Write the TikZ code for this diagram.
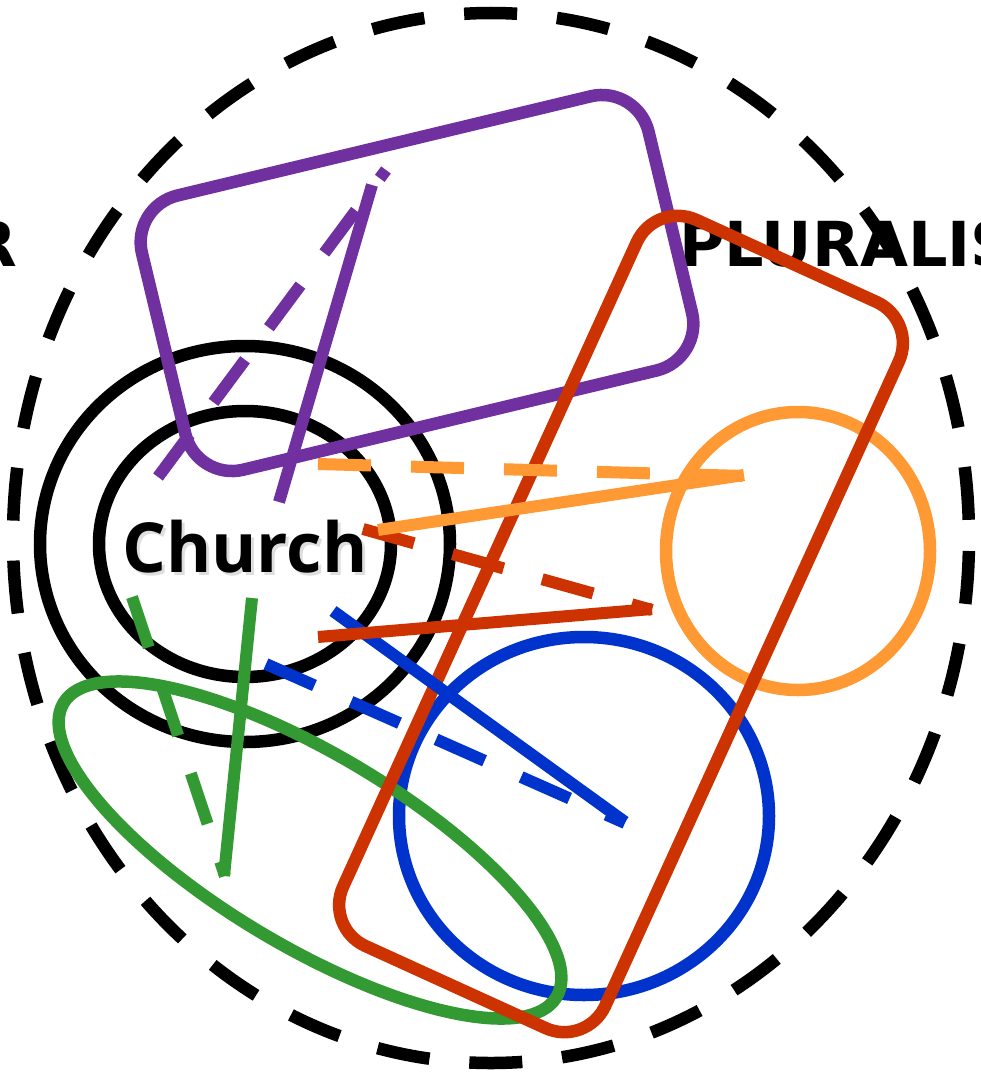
\documentclass[tikz,border=0pt]{standalone}
\usepackage{fontspec}
\newfontfamily\churchfont{Open Sans}
\newfontfamily\lblfont{DejaVu Sans}
\definecolor{cpurple}{HTML}{7030A0}
\definecolor{cred}{HTML}{CC3300}
\definecolor{corange}{HTML}{FF9933}
\definecolor{cblue}{HTML}{0033CC}
\definecolor{cgreen}{HTML}{339933}
\begin{document}
\begin{tikzpicture}[x=1pt,y=-1pt,
  shapeline/.style={line width=12.5pt},
  conn/.style={line width=12pt},
  dconn/.style={line width=12pt, dash pattern=on 53pt off 40pt},
  lbl/.style={inner sep=0pt, font=\lblfont\bfseries\fontsize{62}{62}\selectfont},
  churchtxt/.style={inner sep=0pt, font=\churchfont\bfseries\fontsize{69}{69}\selectfont}]
\useasboundingbox (0,0) rectangle (981,1073);
\clip (0,0) rectangle (981,1073);

% outer labels
\node[lbl, anchor=base west] (pluralism) at (679,266) {PLURALIS};
\node[lbl, anchor=base east] (secular) at (17,266) {R};

% outer dashed boundary
\draw[shapeline, dash pattern=on 53pt off 40pt, dash phase=80pt] (491,538) ellipse [x radius=478, y radius=525];

% church rings
\draw[shapeline] (245,544) ellipse [x radius=205, y radius=198];
\draw[shapeline] (245,544) ellipse [x radius=146, y radius=133];

% purple rounded box
\draw[shapeline, cpurple, rounded corners=48pt, rotate around={13.5:(417,283)}]
  (156.5,142) rectangle (677.5,424);

% orange circle
\draw[shapeline, corange] (798,551) ellipse [x radius=132, y radius=139];

% blue circle
\draw[shapeline, cblue] (584,816) ellipse [x radius=185, y radius=179];

% green ellipse
\draw[shapeline, cgreen, rotate around={-30.8:(310,850)}] (310,850) ellipse [x radius=287, y radius=96];

% red rounded box
\draw[shapeline, cred, rounded corners=45pt, rotate around={-24.5:(621,624)}]
  (477,225) rectangle (765,1023);

% connector end points
\coordinate (pS1) at (279,502); \coordinate (pE1) at (372,185);
\coordinate (pS2) at (158,477); \coordinate (pE2) at (386,170);
\coordinate (gS1) at (252,598); \coordinate (gE1) at (224,876);
\coordinate (gS2) at (132,597); \coordinate (gE2) at (225,876);
\coordinate (bS1) at (333,611); \coordinate (bE1) at (625,822);
\coordinate (bS2) at (266,664); \coordinate (bE2) at (625,823);
\coordinate (rS1) at (318,637); \coordinate (rE1) at (652,609);
\coordinate (rS2) at (363,529); \coordinate (rE2) at (652,610);
\coordinate (oS1) at (378,530); \coordinate (oE1) at (744,475);
\coordinate (oS2) at (318,464); \coordinate (oE2) at (745,476);

% connectors
\draw[conn, cgreen] (gS1) -- (gE1);
\draw[dconn, cgreen] (gS2) -- (gE2);
\draw[conn, cblue] (bS1) -- (bE1);
\draw[dconn, cblue] (bS2) -- (bE2);
\draw[conn, cred] (rS1) -- (rE1);
\draw[dconn, cred] (rS2) -- (rE2);
\draw[conn, corange] (oS1) -- (oE1);
\draw[dconn, corange] (oS2) -- (oE2);
\draw[conn, cpurple] (pS1) -- (pE1);
\draw[dconn, cpurple] (pS2) -- (pE2);

% church label with soft shadow
\node[churchtxt, anchor=base, text=black!13] at (248,575) {Church};
\node[churchtxt, anchor=base] (church) at (245,572) {Church};
\end{tikzpicture}
\end{document}
